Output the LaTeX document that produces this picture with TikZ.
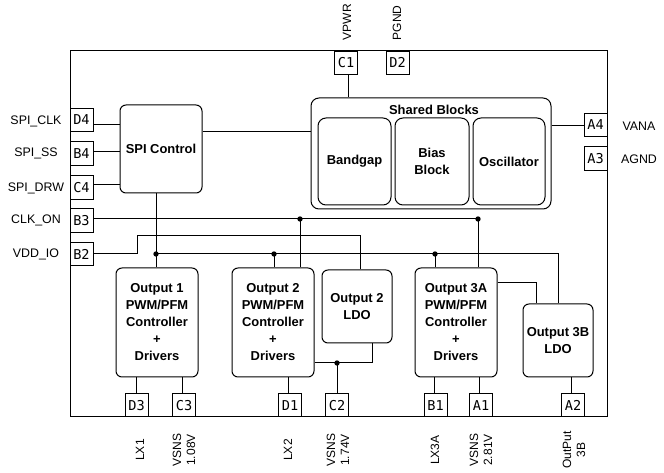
\documentclass[tikz,border=0pt]{standalone}
\usepackage{fontspec}
\setmainfont{Liberation Sans}
\newfontfamily\pinfont{DejaVu Sans Mono}
\begin{document}
\begin{tikzpicture}[x=0.75pt,y=-0.75pt, line width=0.75pt,
  blk/.style={draw, rounded corners=4.5pt, align=center, font=\fontsize{9.7}{12.75}\selectfont\bfseries, inner sep=0pt},
  sz/.style 2 args={minimum width=#1*0.75pt, minimum height=#2*0.75pt},
  pinbox/.style={draw, inner sep=0pt, font=\pinfont\fontsize{10.2}{12}\selectfont, minimum width=17.25pt, minimum height=17.6pt},
  lbl/.style={font=\fontsize{9.3}{11}\selectfont},
  vlbl/.style={rotate=90, align=center, inner sep=1pt, font=\fontsize{9}{10.5}\selectfont},
  dot/.style={circle, fill, inner sep=0pt, minimum size=4pt}]
\fill[white] (0,0) rectangle (664,473);
\useasboundingbox (0,0) rectangle (664,473);

% chip outline
\node[draw, sz={537}{366}, inner sep=0pt] (chip) at (338.5,234) {};

% blocks
\node[blk, sz={82}{88}] (spi) at (161,149) {SPI Control};
\node[blk, sz={240}{111}, rounded corners=6pt] (shared) at (431,153.5) {};
\node[font=\fontsize{9.7}{12}\selectfont\bfseries] (sharedt) at (434,110) {Shared Blocks};
\node[blk, sz={73}{87}, rounded corners=6pt] (bandgap) at (354.5,161.5) {Bandgap};
\node[blk, sz={74}{87}, rounded corners=6pt] (bias) at (432,161.5) {Bias\\Block};
\node[blk, sz={72}{87}, rounded corners=6pt] (osc) at (509,161.5) {Oscillator};
\node[blk, sz={82}{109}] (out1) at (157,322.5) {Output 1\\PWM/PFM\\Controller\\+\\Drivers};
\node[blk, sz={82}{109}] (out2) at (273,322.5) {Output 2\\PWM/PFM\\Controller\\+\\Drivers};
\node[blk, sz={70}{73}] (ldo2) at (357,306.5) {Output 2\\LDO};
\node[blk, sz={82}{109}] (out3a) at (456,322.5) {Output 3A\\PWM/PFM\\Controller\\+\\Drivers};
\node[blk, sz={70}{73}] (out3b) at (558,340.5) {Output 3B\\LDO};

% pins
\node[pinbox] (D4) at (81.5,120) {D4};
\node[pinbox] (B4) at (81.5,153.5) {B4};
\node[pinbox] (C4) at (81.5,187.5) {C4};
\node[pinbox] (B3) at (81.5,220.5) {B3};
\node[pinbox] (B2) at (81.5,254) {B2};
\node[pinbox] (C1) at (346,62.75) {C1};
\node[pinbox] (D2) at (397.5,62.75) {D2};
\node[pinbox] (A4) at (595.5,125) {A4};
\node[pinbox] (A3) at (595.5,158.5) {A3};
\node[pinbox] (D3) at (136.5,405.25) {D3};
\node[pinbox] (C3) at (184,405.25) {C3};
\node[pinbox] (D1) at (290,405.25) {D1};
\node[pinbox] (C2) at (337,405.25) {C2};
\node[pinbox] (B1) at (435.5,405.25) {B1};
\node[pinbox] (A1) at (481,405.25) {A1};
\node[pinbox] (A2) at (573,405.25) {A2};

% pin labels
\node[lbl] (lclk) at (36,121) {SPI\_CLK};
\node[lbl] (lss) at (36,153) {SPI\_SS};
\node[lbl] (ldrw) at (36,188) {SPI\_DRW};
\node[lbl] (lclkon) at (36,220) {CLK\_ON};
\node[lbl] (lvdd) at (36,254) {VDD\_IO};
\node[lbl] (lvana) at (639,126) {VANA};
\node[lbl] (lagnd) at (639,159) {AGND};
\node[vlbl, anchor=west] (lvpwr) at (347,42) {VPWR};
\node[vlbl, anchor=west] (lpgnd) at (397,42) {PGND};
\node[vlbl] (llx1) at (140,450) {LX1};
\node[vlbl] (lv1) at (184,450) {VSNS\\1.08V};
\node[vlbl] (llx2) at (288,450) {LX2};
\node[vlbl] (lv2) at (338,450) {VSNS\\1.74V};
\node[vlbl] (llx3) at (435,450) {LX3A};
\node[vlbl] (lv3) at (481,450) {VSNS\\2.81V};
\node[vlbl] (lo3b) at (574,450) {OutPut\\3B};

% wires
\draw (D4.east|-0,125) -- (spi.west|-0,125);
\draw (B4.east|-0,152) -- (spi.west|-0,152);
\draw (C4.east|-0,185) -- (spi.west|-0,185);
\draw (spi.east|-0,132) -- (shared.west|-0,132);
\draw (C1.south-|348,0) -- (shared.north-|348,0);
\draw (shared.east|-0,126) -- (A4.west|-0,126);

\coordinate (j1) at (300,219);
\coordinate (j2) at (478,219);
\draw (B3.east|-0,219) -- (j2) -- (j2|-out3a.north);
\draw (j1) -- (j1|-out2.north);
\node[dot] at (j1) {};
\node[dot] at (j2) {};

\coordinate (j3) at (156,254);
\coordinate (j4) at (274,254);
\coordinate (j5) at (435,254);
\draw (j3|-spi.south) -- (j3|-out1.north);
\draw (j3) -| (out3b.north);
\draw (j4) -- (j4|-out2.north);
\draw (j5) -- (j5|-out3a.north);
\node[dot] at (j3) {};
\node[dot] at (j4) {};
\node[dot] at (j5) {};

\draw (B2.east) -- (137,254) -- (137,236) -| (ldo2.north-|360,0);
\draw (out3a.east|-0,283) -| (out3b.north-|536,0);

\coordinate (j6) at (337,363);
\draw (ldo2.south-|372,0) -- (372,363) -- (out2.east|-0,363);
\draw (j6) -- (C2.north);
\node[dot] at (j6) {};

\draw (D3.north) -- (D3.north|-out1.south);
\draw (C3.north-|182,0) -- (out1.south-|182,0);
\draw (D1.north-|288,0) -- (out2.south-|288,0);
\draw (B1.north-|434,0) -- (out3a.south-|434,0);
\draw (A1.north-|479,0) -- (out3a.south-|479,0);
\draw (A2.north-|571,0) -- (out3b.south-|571,0);
\end{tikzpicture}
\end{document}
